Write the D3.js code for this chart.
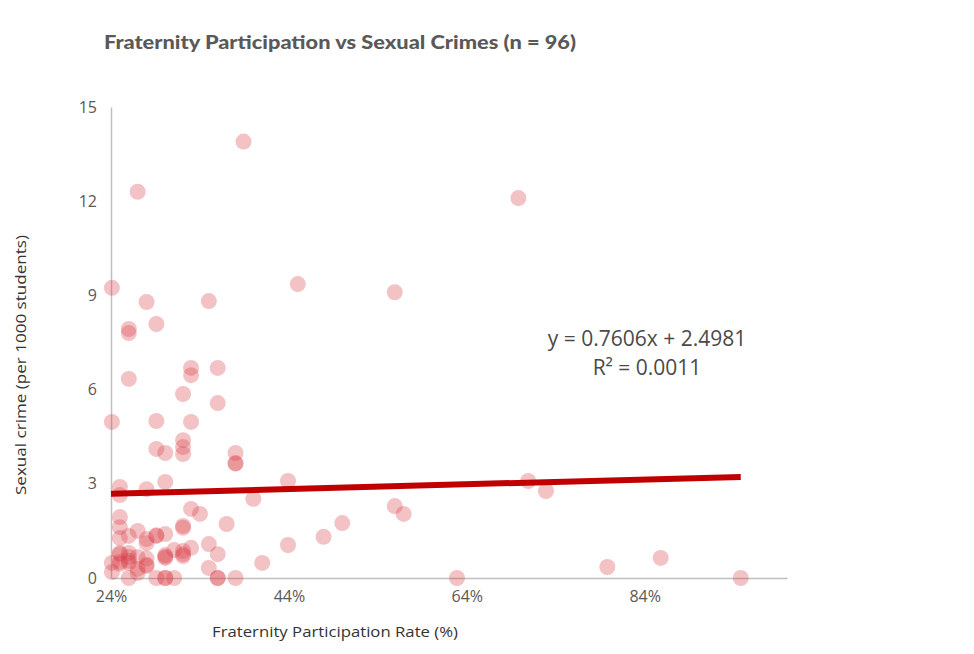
<!DOCTYPE html>
<html>
<head>
<meta charset="utf-8">
<script src="https://cdn.jsdelivr.net/npm/d3@7"></script>
<style>
  html, body { margin: 0; padding: 0; background: #fff; }
  svg { display: block; }
</style>
</head>
<body>
<svg id="chart" width="974" height="654"></svg>
<script>
// Fraternity participation rate (%) for each school
const participation = [
  38.9, 27.0, 69.8, 24.1, 28.0, 35.0, 45.0, 55.9, 26.0, 26.0,
  29.1, 26.0, 33.0, 33.0, 36.0, 32.1, 36.0, 24.1, 29.1, 33.0,
  32.1, 32.1, 32.1, 29.1, 30.1, 38.0, 38.0, 38.0, 25.0, 25.0,
  28.0, 30.1, 43.9, 70.9, 72.9, 40.0, 55.9, 56.9, 33.0, 34.0,
  25.0, 25.0, 32.1, 32.1, 37.0, 50.0, 47.9, 43.9, 35.0, 27.0,
  25.0, 26.0, 28.0, 28.0, 29.1, 29.1, 30.1, 31.1, 32.1, 33.0,
  32.1, 36.0, 25.0, 25.0, 26.0, 26.0, 27.0, 28.0, 30.1, 30.1,
  30.1, 24.1, 25.0, 26.0, 27.0, 27.0, 28.0, 24.1, 35.0, 41.0,
  26.0, 29.1, 30.1, 30.1, 31.1, 36.0, 36.0, 38.0, 62.9, 79.8,
  85.8, 94.8, 32.1, 25.0, 26.0, 28.0
];
// Sexual crime per 1000 students for each school
const crimeRate = [
  13.9, 12.3, 12.1, 9.24, 8.79, 8.82, 9.36, 9.1, 7.93, 7.80,
  8.09, 6.34, 6.69, 6.46, 6.69, 5.86, 5.57, 4.97, 5.0, 4.97,
  4.39, 4.17, 3.95, 4.11, 3.98, 3.98, 3.66, 3.64, 2.9, 2.64,
  2.83, 3.06, 3.09, 3.09, 2.77, 2.52, 2.29, 2.04, 2.2, 2.04,
  1.94, 1.62, 1.66, 1.6, 1.72, 1.75, 1.31, 1.05, 1.08, 1.5,
  1.27, 1.34, 1.24, 1.11, 1.34, 1.36, 1.4, 0.89, 0.86, 0.96,
  0.70, 0.76, 0.76, 0.8, 0.8, 0.67, 0.67, 0.62, 0.73, 0.64,
  0.68, 0.48, 0.45, 0.48, 0.29, 0.16, 0.38, 0.19, 0.32, 0.48,
  0, 0, 0, 0, 0, 0, 0, 0, 0, 0.35,
  0.64, 0, 0.76, 0.52, 0.55, 0.42
];
const xTicks = [24, 44, 64, 84];
const yTicks = [0, 3, 6, 9, 12, 15];
const trendSlope = 0.7606;
const trendIntercept = 2.4981;
const trendRange = [24, 94.8];
const equationLines = ["y = 0.7606x + 2.4981", "R² = 0.0011"];
const titleText = "Fraternity Participation vs Sexual Crimes (n = 96)";
const xLabel = "Fraternity Participation Rate (%)";
const yLabel = "Sexual crime (per 1000 students)";

const svg = d3.select("#chart");
const x = d3.scaleLinear().domain([24, 100]).range([111, 787]);
const y = d3.scaleLinear().domain([0, 15]).range([578, 107]);

const tickFont = "'Open Sans', Lato, sans-serif";

// axes
const xAxis = svg.append("g").attr("transform", "translate(0,578)")
  .call(d3.axisBottom(x).tickValues(xTicks).tickSize(0).tickPadding(13).tickFormat(d => d + "%"));
const yAxis = svg.append("g").attr("transform", "translate(111,0)")
  .call(d3.axisLeft(y).tickValues(yTicks).tickSize(0).tickPadding(14));
[xAxis, yAxis].forEach(g => {
  g.select(".domain").attr("stroke", "#bfbfbf").attr("stroke-width", 1.5);
  g.selectAll("text").attr("fill", "#595959").attr("font-size", 16).attr("font-family", tickFont);
});

// points
svg.append("g").selectAll("circle")
  .data(participation.map((p, i) => [p, crimeRate[i]]))
  .join("circle")
  .attr("cx", d => x(d[0]))
  .attr("cy", d => y(d[1]))
  .attr("r", 8)
  .attr("fill", "#d9404a")
  .attr("fill-opacity", 0.32);

// trendline
svg.append("line")
  .attr("x1", x(trendRange[0]))
  .attr("y1", y(trendSlope * trendRange[0] / 100 + trendIntercept))
  .attr("x2", x(trendRange[1]))
  .attr("y2", y(trendSlope * trendRange[1] / 100 + trendIntercept))
  .attr("stroke", "#c00000")
  .attr("stroke-width", 6);

// equation
svg.append("g").selectAll("text").data(equationLines).join("text")
  .attr("x", 647)
  .attr("y", (d, i) => 346 + i * 29)
  .attr("text-anchor", "middle")
  .attr("font-family", "'Open Sans', 'Liberation Sans', sans-serif")
  .attr("font-size", 21)
  .attr("fill", "#4a4a4a")
  .text(d => d);

// title
svg.append("text")
  .attr("x", 104).attr("y", 49)
  .attr("font-family", "Lato, sans-serif")
  .attr("font-weight", 900)
  .attr("font-size", 18)
  .attr("fill", "#595959")
  .attr("textLength", 472)
  .attr("lengthAdjust", "spacingAndGlyphs")
  .text(titleText);

// axis titles
svg.append("text")
  .attr("x", 335).attr("y", 637)
  .attr("text-anchor", "middle")
  .attr("font-family", tickFont)
  .attr("font-size", 15)
  .attr("fill", "#333")
  .attr("textLength", 246)
  .attr("lengthAdjust", "spacingAndGlyphs")
  .text(xLabel);

svg.append("text")
  .attr("transform", "translate(26,365) rotate(-90)")
  .attr("text-anchor", "middle")
  .attr("font-family", tickFont)
  .attr("font-size", 15)
  .attr("fill", "#333")
  .attr("textLength", 260)
  .attr("lengthAdjust", "spacingAndGlyphs")
  .text(yLabel);
</script>
</body>
</html>
